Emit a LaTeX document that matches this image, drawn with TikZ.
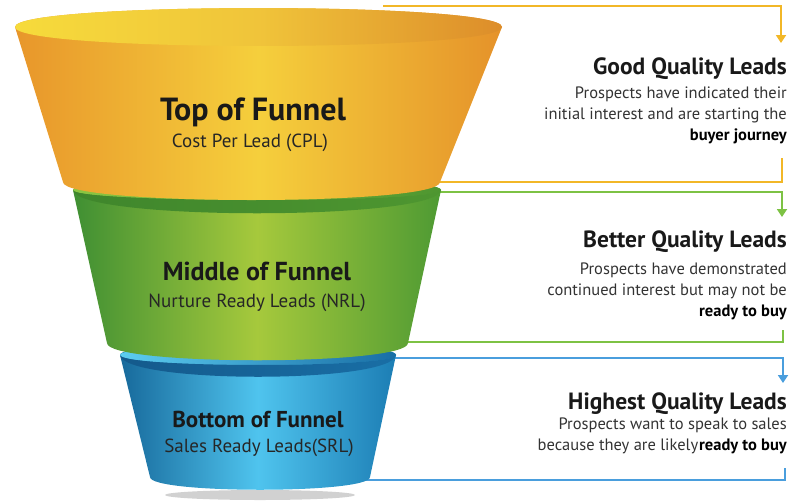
\documentclass[tikz,border=0pt]{standalone}
\usepackage{fontspec}
\setmainfont{PT Sans}
\usetikzlibrary{arrows.meta}

\definecolor{leadyellow}{HTML}{F2B727}
\definecolor{leadgreen}{HTML}{7DC244}
\definecolor{leadblue}{HTML}{4A9EDD}
\definecolor{textgray}{HTML}{333333}
% funnel shades
\definecolor{blueL}{RGB}{23,105,155}
\definecolor{blueM}{RGB}{79,196,238}
\definecolor{blueR}{RGB}{28,125,180}
\definecolor{blueLip}{RGB}{92,205,240}
\definecolor{blueBandL}{RGB}{20,90,140}
\definecolor{blueBandR}{RGB}{25,110,165}
\definecolor{greenL}{RGB}{63,143,51}
\definecolor{greenM}{RGB}{166,201,60}
\definecolor{greenR}{RGB}{78,154,51}
\definecolor{greenLip}{RGB}{140,198,65}
\definecolor{greenBandL}{RGB}{63,134,44}
\definecolor{greenBandR}{RGB}{78,150,48}
\definecolor{yellowL}{RGB}{232,150,43}
\definecolor{yellowM}{RGB}{245,207,60}
\definecolor{yellowR}{RGB}{229,146,42}
\definecolor{rimL}{RGB}{246,219,59}
\definecolor{rimM}{RGB}{240,196,58}
\definecolor{rimR}{RGB}{221,141,42}

\begin{document}
\begin{tikzpicture}[x=1pt,y=-1pt,>={Triangle[width=10pt,length=8pt]}]
\tikzset{
  bracket/.style={line width=1.8pt},
  funhead/.style={font=\bfseries\fontsize{32}{36}\selectfont,text=black!90,anchor=base,inner sep=0pt},
  funsub/.style={font=\fontsize{19}{22}\selectfont,text=black!85,anchor=base,inner sep=0pt},
  leadhead/.style={font=\bfseries\fontsize{23.5}{28}\selectfont,text=black!90,anchor=base east,inner sep=0pt},
  leadtext/.style={font=\fontsize{16.5}{21}\selectfont,text=textgray,align=right,anchor=north east,inner sep=0pt}
}
\useasboundingbox (0,0) rectangle (800,501);

% brackets, drawn first so the funnel hides their left ends
\coordinate (ytop) at (383,6);   \coordinate (yarr) at (781,43);
\coordinate (ybot) at (420,182); \coordinate (yend) at (782,158);
\coordinate (gtop) at (420,192); \coordinate (garr) at (782,217);
\coordinate (gbot) at (390,342); \coordinate (gend) at (783,330);
\coordinate (btop) at (380,358); \coordinate (barr) at (783,383);
\coordinate (bbot) at (350,480); \coordinate (bend) at (785,468);
\draw[bracket,leadyellow,->] (ytop) -| (yarr);
\draw[bracket,leadyellow] (ybot) -| (yend);
\draw[bracket,leadgreen,->] (gtop) -| (garr);
\draw[bracket,leadgreen] (gbot) -| (gend);
\draw[bracket,leadblue,->] (btop) -| (barr);
\draw[bracket,leadblue] (bbot) -| (bend);

% bottom of funnel
\fill[black!30,opacity=.6] (260,495) ellipse [x radius=95, y radius=5];
\shade[left color=blueL, right color=blueR, middle color=blueM]
  (120,355) -- (150,477) .. controls (150,494) and (370,494) .. (370,477) -- (396,355) .. controls (396,339) and (120,339) .. cycle;
\shade[left color=blueLip, right color=blueBandR]
  (120,355) .. controls (120,341.7) and (396,341.7) .. (396,355) .. controls (396,368.3) and (120,368.3) .. cycle;
\shade[left color=blueBandL, right color=blueBandR]
  (120,355) .. controls (120,368.3) and (396,368.3) .. (396,355) .. controls (392,384) and (124,384) .. cycle;

% middle of funnel
\shade[left color=greenL, right color=greenR, middle color=greenM]
  (73,190) -- (107,343) .. controls (107,366) and (408,366) .. (408,343) -- (441,190) .. controls (441,174) and (73,174) .. cycle;
\shade[left color=greenLip, right color=greenBandR]
  (73,190) .. controls (73,176.7) and (441,176.7) .. (441,190) .. controls (441,203.3) and (73,203.3) .. cycle;
\shade[left color=greenBandL, right color=greenBandR]
  (73,190) .. controls (73,203.3) and (441,203.3) .. (441,190) .. controls (437,221) and (77,221) .. cycle;

% top of funnel
\shade[left color=yellowL, right color=yellowR, middle color=yellowM]
  (15,27) -- (63,182) .. controls (63,206) and (440,206) .. (440,182) -- (502,27) .. controls (502,1.7) and (15,1.7) .. cycle;
\shade[left color=rimL, right color=rimR, middle color=rimM]
  (15,27) .. controls (15,1.7) and (502,1.7) .. (502,27) .. controls (502,52.3) and (15,52.3) .. cycle;

% funnel labels
\node[funhead] (tophead) at (253,120) {Top of Funnel};
\node[funsub] (topsub) at (250,147) {Cost Per Lead (CPL)};
\node[funhead,font=\bfseries\fontsize{26}{30}\selectfont] (midhead) at (257,280) {Middle of Funnel};
\node[funsub] (midsub) at (257,307) {Nurture Ready Leads (NRL)};
\node[funhead,font=\bfseries\fontsize{23}{27}\selectfont] (bothead) at (258,427) {Bottom of Funnel};
\node[funsub] (botsub) at (259,452) {Sales Ready Leads(SRL)};

% lead quality
\node[leadhead] (goodhead) at (787,74) {Good Quality Leads};
\node[leadtext] (goodtext) at (787,87) {Prospects have indicated their\\initial interest and are starting the\\\textbf{\color{black}buyer journey}};
\node[leadhead] (betterhead) at (787,247) {Better Quality Leads};
\node[leadtext] (bettertext) at (787,263) {Prospects have demonstrated\\continued interest but may not be\\\textbf{\color{black}ready to buy}};
\node[leadhead] (highhead) at (787,409) {Highest Quality Leads};
\node[leadtext] (hightext) at (787,418) {Prospects want to speak to sales\\because they are likely\kern1pt\textbf{\color{black}ready to buy}};
\end{tikzpicture}
\end{document}
